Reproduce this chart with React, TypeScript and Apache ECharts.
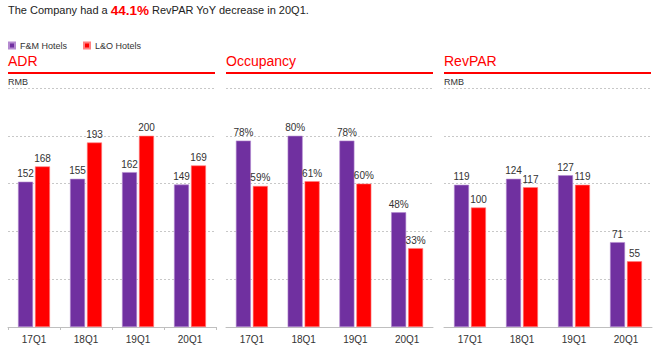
import React, { useEffect, useRef } from "react";
import * as echarts from "echarts";

const quarters = ["17Q1", "18Q1", "19Q1", "20Q1"];
const seriesNames = ["F&M Hotels", "L&O Hotels"];
const adrFM = [152, 155, 162, 149];
const adrLO = [168, 193, 200, 169];
const occFM = [78, 80, 78, 48];
const occLO = [59, 61, 60, 33];
const revFM = [119, 124, 127, 71];
const revLO = [100, 117, 119, 55];
const panelTitles = ["ADR", "Occupancy", "RevPAR"];
const panelUnits = ["RMB", "", "RMB"];
const yMax = [250, 100, 200];
const yInterval = [50, 20, 40];

const PURPLE = "#7030A0";
const RED = "#FF0000";
const FONT = 'Arial, "Liberation Sans", Helvetica, sans-serif';

export default function App() {
  const ref = useRef<HTMLDivElement>(null);
  useEffect(() => {
    if (!ref.current) return;
    const chart = echarts.init(ref.current, undefined, { renderer: "svg" });
    const panelLeft = [8, 226, 444];
    const panelWidth = [208, 207, 208];
    const grids = panelLeft.map((l, i) => ({ left: l, top: 88, width: panelWidth[i], height: 239 }));
    const xAxes = grids.map((_, i) => ({
      type: "category",
      gridIndex: i,
      data: quarters,
      axisLine: { lineStyle: { color: "#bfbfbf" } },
      axisTick: { show: i === 0, length: 3, lineStyle: { color: "#bfbfbf" } },
      axisLabel: { color: "#333", fontSize: 10, fontFamily: FONT, margin: 7 },
    }));
    const yAxes = grids.map((_, i) => ({
      type: "value",
      gridIndex: i,
      min: 0,
      max: yMax[i],
      interval: yInterval[i],
      axisLabel: { show: false },
      axisLine: { show: false },
      axisTick: { show: false },
      splitLine: { lineStyle: { color: "#c8c8c8", type: [2, 2], width: 1 } },
    }));
    const data = [
      [adrFM, adrLO],
      [occFM, occLO],
      [revFM, revLO],
    ];
    const series: any[] = [];
    data.forEach((pair, i) => {
      pair.forEach((vals, j) => {
        series.push({
          type: "bar",
          name: seriesNames[j],
          xAxisIndex: i,
          yAxisIndex: i,
          data: vals,
          barWidth: 15,
          barGap: "13%",
          itemStyle: {
            color: j === 0 ? PURPLE : RED,
            borderColor: j === 0 ? "#b48ad0" : "#ff8080",
            borderWidth: 0.6,
          },
          label: {
            show: true,
            position: "top",
            distance: 3,
            color: "#333",
            fontSize: 10,
            fontFamily: FONT,
            formatter: i === 1 ? "{c}%" : "{c}",
          },
        });
      });
    });
    const graphics: any[] = [];
    panelLeft.forEach((l, i) => {
      graphics.push({
        type: "text",
        left: l,
        top: 54,
        style: { text: panelTitles[i], fill: RED, fontSize: 14, fontFamily: FONT },
      });
      graphics.push({
        type: "line",
        shape: { x1: l, y1: 73, x2: l + 207, y2: 73 },
        style: { stroke: RED, lineWidth: 2 },
      });
      if (panelUnits[i]) {
        graphics.push({
          type: "text",
          left: l,
          top: 77,
          style: { text: panelUnits[i], fill: "#333", fontSize: 9, fontFamily: FONT },
        });
      }
    });
    chart.setOption({
      animation: false,
      title: {
        left: 3,
        top: -2,
        text: "The Company had a {r|44.1%} RevPAR YoY decrease in 20Q1.",
        textStyle: {
          fontSize: 11,
          fontWeight: "normal",
          color: "#222",
          fontFamily: FONT,
          rich: {
            r: { fontSize: 13.5, fontWeight: "bold", color: RED, fontFamily: FONT },
          },
        },
      },
      legend: {
        left: 3,
        top: 36,
        icon: "rect",
        itemWidth: 6,
        itemHeight: 6,
        itemGap: 16,
        data: seriesNames,
        textStyle: { fontSize: 9, color: "#333", fontFamily: FONT },
      },
      grid: grids,
      xAxis: xAxes,
      yAxis: yAxes,
      series,
      graphic: graphics,
    });
    return () => chart.dispose();
  }, []);
  return (
    <div
      ref={ref}
      style={{ position: "fixed", left: 0, top: 0, width: 661, height: 360, background: "#fff" }}
    />
  );
}
